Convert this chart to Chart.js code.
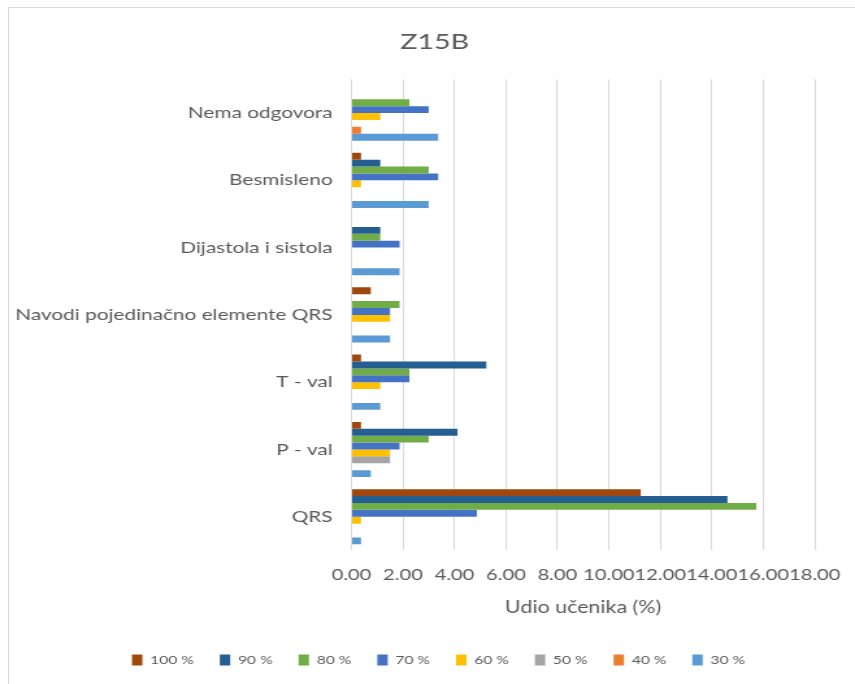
<!DOCTYPE html>
<html>
<head>
<meta charset="utf-8">
<script src="https://cdn.jsdelivr.net/npm/chart.js@4.4.4/dist/chart.umd.min.js"></script>
<style>
  html, body { margin: 0; padding: 0; background: #fff; }
  #wrap { position: relative; width: 855px; height: 684px; overflow: hidden; }
  #frame { position: absolute; left: 8px; top: 7px; width: 860px; height: 690px; border: 1px solid #d9d9d9; }
  /* the reference is a horizontally stretched picture, so the canvas is drawn narrower and stretched */
  canvas { position: absolute; left: 0; top: 0; }
</style>
</head>
<body>
<div id="wrap">
  <div id="frame"></div>
  <canvas id="chart" width="658" height="684" style="width:855px;height:684px"></canvas>
</div>
<script>
// categories, top to bottom
const categories = ["Nema odgovora", "Besmisleno", "Dijastola i sistola", "Navodi pojedinačno elemente QRS", "T - val", "P - val", "QRS"]
const seriesNames = ["100 %", "90 %", "80 %", "70 %", "60 %", "50 %", "40 %", "30 %"]
const seriesColors = ["#9E480E", "#255E91", "#70AD47", "#4472C4", "#FFC000", "#A5A5A5", "#ED7D31", "#5B9BD5"]

// values per series, in category order
const s100 = [0, 0.37, 0, 0.75, 0.37, 0.37, 11.24]
const s90 = [0, 1.12, 1.12, 0, 5.24, 4.12, 14.61]
const s80 = [2.25, 3.00, 1.12, 1.87, 2.25, 3.00, 15.73]
const s70 = [3.00, 3.37, 1.87, 1.50, 2.25, 1.87, 4.87]
const s60 = [1.12, 0.37, 0, 1.50, 1.12, 1.50, 0.37]
const s50 = [0, 0, 0, 0, 0, 1.50, 0]
const s40 = [0.37, 0, 0, 0, 0, 0, 0]
const s30 = [3.37, 3.00, 1.87, 1.50, 1.12, 0.75, 0.37]

const seriesValues = [s100, s90, s80, s70, s60, s50, s40, s30]

const textColor = "#595959"
const fontFamily = "Lato, 'Open Sans', sans-serif"

const datasets = seriesNames.map((name, i) => ({
    label: name,
    data: seriesValues[i],
    backgroundColor: seriesColors[i],
    borderWidth: 0,
    categoryPercentage: 0.82,
    barPercentage: 1.0
}))

// title and legend sit a bit right of the full width centre in the reference
const shiftBlocks = {
    id: "shiftBlocks",
    afterLayout(chart) {
        const t = chart.titleBlock
        if (t) { t.left += 17; t.right += 17 }
        const l = chart.legend
        if (l) { l.left += 20; l.right += 20 }
    }
}

new Chart(document.getElementById("chart"), {
    type: "bar",
    data: { labels: categories, datasets: datasets },
    plugins: [shiftBlocks],
    options: {
        indexAxis: "y",
        responsive: false,
        animation: false,
        layout: { padding: { top: 20, left: 8, right: 31, bottom: 8 } },
        plugins: {
            title: {
                display: true,
                text: "Z15B",
                color: textColor,
                font: { family: fontFamily, size: 22, weight: "normal" },
                padding: { top: 9, bottom: 24 }
            },
            legend: {
                position: "bottom",
                labels: {
                    color: textColor,
                    font: { family: fontFamily, size: 12 },
                    boxWidth: 8,
                    boxHeight: 11,
                    padding: 20
                }
            },
            tooltip: { enabled: false }
        },
        scales: {
            x: {
                min: 0,
                max: 18,
                ticks: {
                    stepSize: 2,
                    color: textColor,
                    font: { family: fontFamily, size: 15.5 },
                    padding: 15,
                    maxRotation: 0,
                    minRotation: 0,
                    autoSkip: false,
                    callback: v => v.toFixed(2)
                },
                grid: { color: "#d9d9d9", drawTicks: false },
                border: { display: false },
                title: {
                    display: true,
                    text: "Udio učenika (%)",
                    color: textColor,
                    font: { family: fontFamily, size: 16.5, lineHeight: 1.0 },
                    padding: { top: 0, bottom: 18.5 }
                },
                afterFit: scale => { scale.paddingRight = 0 }
            },
            y: {
                ticks: {
                    color: textColor,
                    font: { family: fontFamily, size: 16 },
                    padding: 14.5
                },
                grid: { display: false, drawTicks: false },
                border: { display: false },
                afterFit: scale => { scale.width = 262.5 }
            }
        }
    }
})
</script>
</body>
</html>
